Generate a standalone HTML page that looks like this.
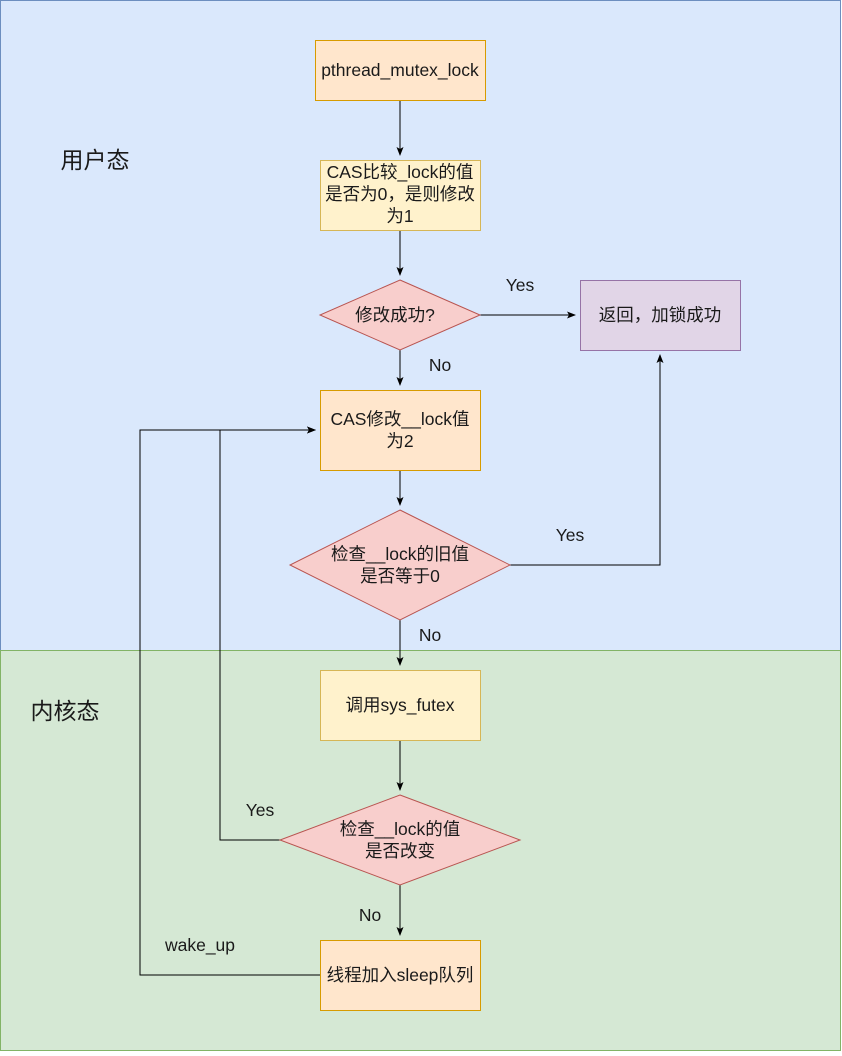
<!DOCTYPE html>
<html><head><meta charset="utf-8"><style>
body{margin:0;width:842px;height:1051px;overflow:hidden;background:#fff}
svg text{font-family:"Liberation Sans","Noto Sans CJK SC",sans-serif;font-size:17.5px;fill:#1a1a1a}
</style></head><body>
<svg width="842" height="1051" viewBox="0 0 842 1051" xmlns="http://www.w3.org/2000/svg">
<defs><marker id="a" markerWidth="10" markerHeight="10" refX="8" refY="5" orient="auto" markerUnits="userSpaceOnUse"><path d="M0,1.5 L9,5 L0,8.5 L2,5 Z" fill="#000"/></marker></defs>
<rect x="0.5" y="0.5" width="840" height="650" fill="#dae8fc" stroke="#6c8ebf"/>
<rect x="0.5" y="650.5" width="840" height="400" fill="#d5e8d4" stroke="#82b366"/>
<text x="95" y="168" text-anchor="middle" style="font-size:23px">用户态</text>
<text x="65" y="719" text-anchor="middle" style="font-size:23px">内核态</text>
<g stroke="#000" fill="none">
<path d="M400,100 V155" marker-end="url(#a)"/>
<path d="M400,230 V275" marker-end="url(#a)"/>
<path d="M400,350 V385" marker-end="url(#a)"/>
<path d="M400,470 V505" marker-end="url(#a)"/>
<path d="M400,620 V665" marker-end="url(#a)"/>
<path d="M400,740 V790" marker-end="url(#a)"/>
<path d="M400,885 V935" marker-end="url(#a)"/>
<path d="M480,315 H575" marker-end="url(#a)"/>
<path d="M510,565 H660 V355" marker-end="url(#a)"/>
<path d="M280,840 H220 V430 H315" marker-end="url(#a)"/>
<path d="M320,975 H140 V430 H315" marker-end="url(#a)"/>
</g>
<rect x="315.5" y="40.5" width="170" height="60" fill="#ffe6cc" stroke="#d79b00"/>
<text x="400" y="76" text-anchor="middle">pthread_mutex_lock</text>
<rect x="320.5" y="160.5" width="160" height="70" fill="#fff2cc" stroke="#d6b656"/>
<text x="400" y="178" text-anchor="middle">CAS比较_lock的值</text>
<text x="400" y="200" text-anchor="middle">是否为0，是则修改</text>
<text x="400" y="222" text-anchor="middle">为1</text>
<path d="M400,280 L480,315 L400,350 L320,315 Z" fill="#f8cecc" stroke="#b85450"/>
<text x="395" y="321" text-anchor="middle">修改成功?</text>
<rect x="580.5" y="280.5" width="160" height="70" fill="#e1d5e7" stroke="#9673a6"/>
<text x="660" y="321" text-anchor="middle">返回，加锁成功</text>
<rect x="320.5" y="390.5" width="160" height="80" fill="#ffe6cc" stroke="#d79b00"/>
<text x="400" y="425" text-anchor="middle">CAS修改__lock值</text>
<text x="400" y="447" text-anchor="middle">为2</text>
<path d="M400,510 L510,565 L400,620 L290,565 Z" fill="#f8cecc" stroke="#b85450"/>
<text x="400" y="560" text-anchor="middle">检查__lock的旧值</text>
<text x="400" y="582" text-anchor="middle">是否等于0</text>
<rect x="320.5" y="670.5" width="160" height="70" fill="#fff2cc" stroke="#d6b656"/>
<text x="400" y="711" text-anchor="middle">调用sys_futex</text>
<path d="M400,795 L520,840 L400,885 L280,840 Z" fill="#f8cecc" stroke="#b85450"/>
<text x="400" y="835" text-anchor="middle">检查__lock的值</text>
<text x="400" y="857" text-anchor="middle">是否改变</text>
<rect x="320.5" y="940.5" width="160" height="70" fill="#ffe6cc" stroke="#d79b00"/>
<text x="400" y="981" text-anchor="middle">线程加入sleep队列</text>
<text x="520" y="291" text-anchor="middle">Yes</text>
<text x="440" y="371" text-anchor="middle">No</text>
<text x="570" y="541" text-anchor="middle">Yes</text>
<text x="430" y="641" text-anchor="middle">No</text>
<text x="260" y="816" text-anchor="middle">Yes</text>
<text x="370" y="921" text-anchor="middle">No</text>
<text x="200" y="951" text-anchor="middle">wake_up</text>
</svg>
</body></html>
